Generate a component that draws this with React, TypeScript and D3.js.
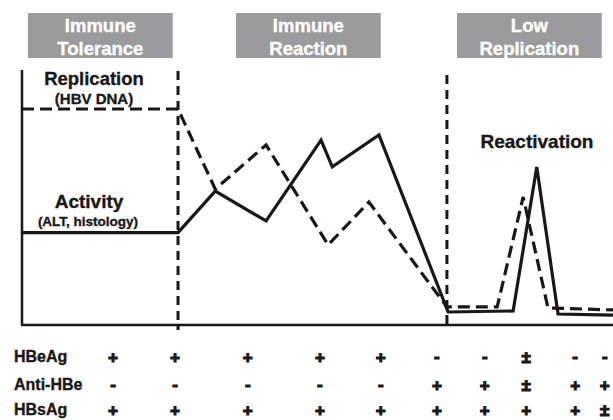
import React from "react";
import * as d3 from "d3";

// ---- Data ----
const phaseNames: string[][] = [
  ["Immune", "Tolerance"],
  ["Immune", "Reaction"],
  ["Low", "Replication"],
];
const phaseBoxStart = [1.0, 36.2, 73.6];
const phaseBoundaries = [26.4, 71.9];

const activityTime = [0, 26.4, 32.7, 41.3, 50.6, 52.5, 60.4, 72.1, 83.1, 87.1, 90.7, 100];
const activityLevel = [36.2, 36.2, 52.5, 40.8, 72.5, 62, 74.5, 5.1, 5.5, 62, 4.3, 3.9];

const replicationTime = [0, 26.4, 32.7, 41.3, 51.8, 58.7, 71.9, 80.4, 84.8, 89, 100];
const replicationLevel = [84.7, 84.7, 53.3, 70.6, 31.4, 48.2, 7.1, 7.1, 50.2, 6.7, 5.9];

const markerNames = ["HBeAg", "Anti-HBe", "HBsAg"];
const markerTimes = [15.4, 25.9, 38.2, 50.4, 60.7, 70.2, 78.3, 85.3, 93.6, 98.6];
const hbeag = ["+", "+", "+", "+", "+", "-", "-", "±", "-", "-"];
const antiHbe = ["-", "-", "-", "-", "-", "+", "+", "±", "+", "+"];
const hbsag = ["+", "+", "+", "+", "+", "+", "+", "+", "+", "±"];
const markerRows = [hbeag, antiHbe, hbsag];

// ---- Layout ----
const W = 613;
const H = 420;
const FONT = "'Liberation Sans', Arial, Helvetica, sans-serif";
const INK = "#1a1718";

export default function App() {
  const x = d3.scaleLinear().domain([0, 100]).range([22, 613]);
  const y = d3.scaleLinear().domain([0, 100]).range([325, 70]);

  const line = d3
    .line<[number, number]>()
    .x((d) => x(d[0]))
    .y((d) => y(d[1]));

  const activityPath = line(activityTime.map((t, i) => [t, activityLevel[i]]) as [number, number][]) || "";
  const replicationPath = line(replicationTime.map((t, i) => [t, replicationLevel[i]]) as [number, number][]) || "";

  const boxW = x(24.5) - x(0);
  const rowCenters = [357, 385, 410];

  const heavy = { fontWeight: "bold" as const, stroke: INK, strokeWidth: 0.35, fill: INK };

  return (
    <svg
      width={W}
      height={H}
      style={{ position: "absolute", left: 0, top: 0, background: "#fff" }}
      fontFamily={FONT}
    >
      {/* phase boxes */}
      {phaseNames.map((lines, i) => {
        const bx = x(phaseBoxStart[i]);
        return (
          <g key={i}>
            <rect x={bx} y={13} width={boxW} height={45} fill="#9b9b9e" />
            <text x={bx + boxW / 2} y={31.5} textAnchor="middle" fill="#fff" stroke="#fff" strokeWidth={0.35} fontWeight="bold" fontSize={18.5}>
              {lines[0]}
            </text>
            <text x={bx + boxW / 2} y={55} textAnchor="middle" fill="#fff" stroke="#fff" strokeWidth={0.35} fontWeight="bold" fontSize={18.5}>
              {lines[1]}
            </text>
          </g>
        );
      })}

      {/* axes */}
      <line x1={x(0)} y1={y(100)} x2={x(0)} y2={y(0)} stroke={INK} strokeWidth={2.5} />
      <line x1={x(0) - 1} y1={y(0)} x2={x(100)} y2={y(0)} stroke={INK} strokeWidth={2.5} />

      {/* phase boundaries */}
      {phaseBoundaries.map((b, i) => (
        <line
          key={i}
          x1={x(b)}
          x2={x(b)}
          y1={i === 0 ? 71 : 75}
          y2={330}
          stroke={INK}
          strokeWidth={3}
          strokeDasharray="9 6"
        />
      ))}

      {/* series */}
      <path d={replicationPath} fill="none" stroke={INK} strokeWidth={3.2} strokeDasharray="12 6" strokeLinejoin="miter" />
      <path d={activityPath} fill="none" stroke={INK} strokeWidth={3.2} strokeLinejoin="miter" />

      {/* labels */}
      <text x={94} y={85} textAnchor="middle" fontSize={18.5} {...heavy}>
        Replication
      </text>
      <text x={94} y={104} textAnchor="middle" fontSize={15} {...heavy}>
        (HBV DNA)
      </text>
      <text x={89} y={208} textAnchor="middle" fontSize={19} {...heavy}>
        Activity
      </text>
      <text x={88} y={226} textAnchor="middle" fontSize={13.5} {...heavy}>
        (ALT, histology)
      </text>
      <text x={537} y={148} textAnchor="middle" fontSize={19} {...heavy}>
        Reactivation
      </text>

      {/* serology table */}
      {markerNames.map((name, r) => (
        <g key={name}>
          <text x={14} y={rowCenters[r] + 5} fontSize={16} {...heavy}>
            {name}
          </text>
          {markerRows[r].map((s, c) => (
            <text
              key={c}
              x={x(markerTimes[c])}
              y={rowCenters[r] + (s === "-" ? 4.5 : 6)}
              textAnchor="middle"
              fontSize={17}
              {...heavy}
              strokeWidth={1.1}
            >
              {s}
            </text>
          ))}
        </g>
      ))}
    </svg>
  );
}
